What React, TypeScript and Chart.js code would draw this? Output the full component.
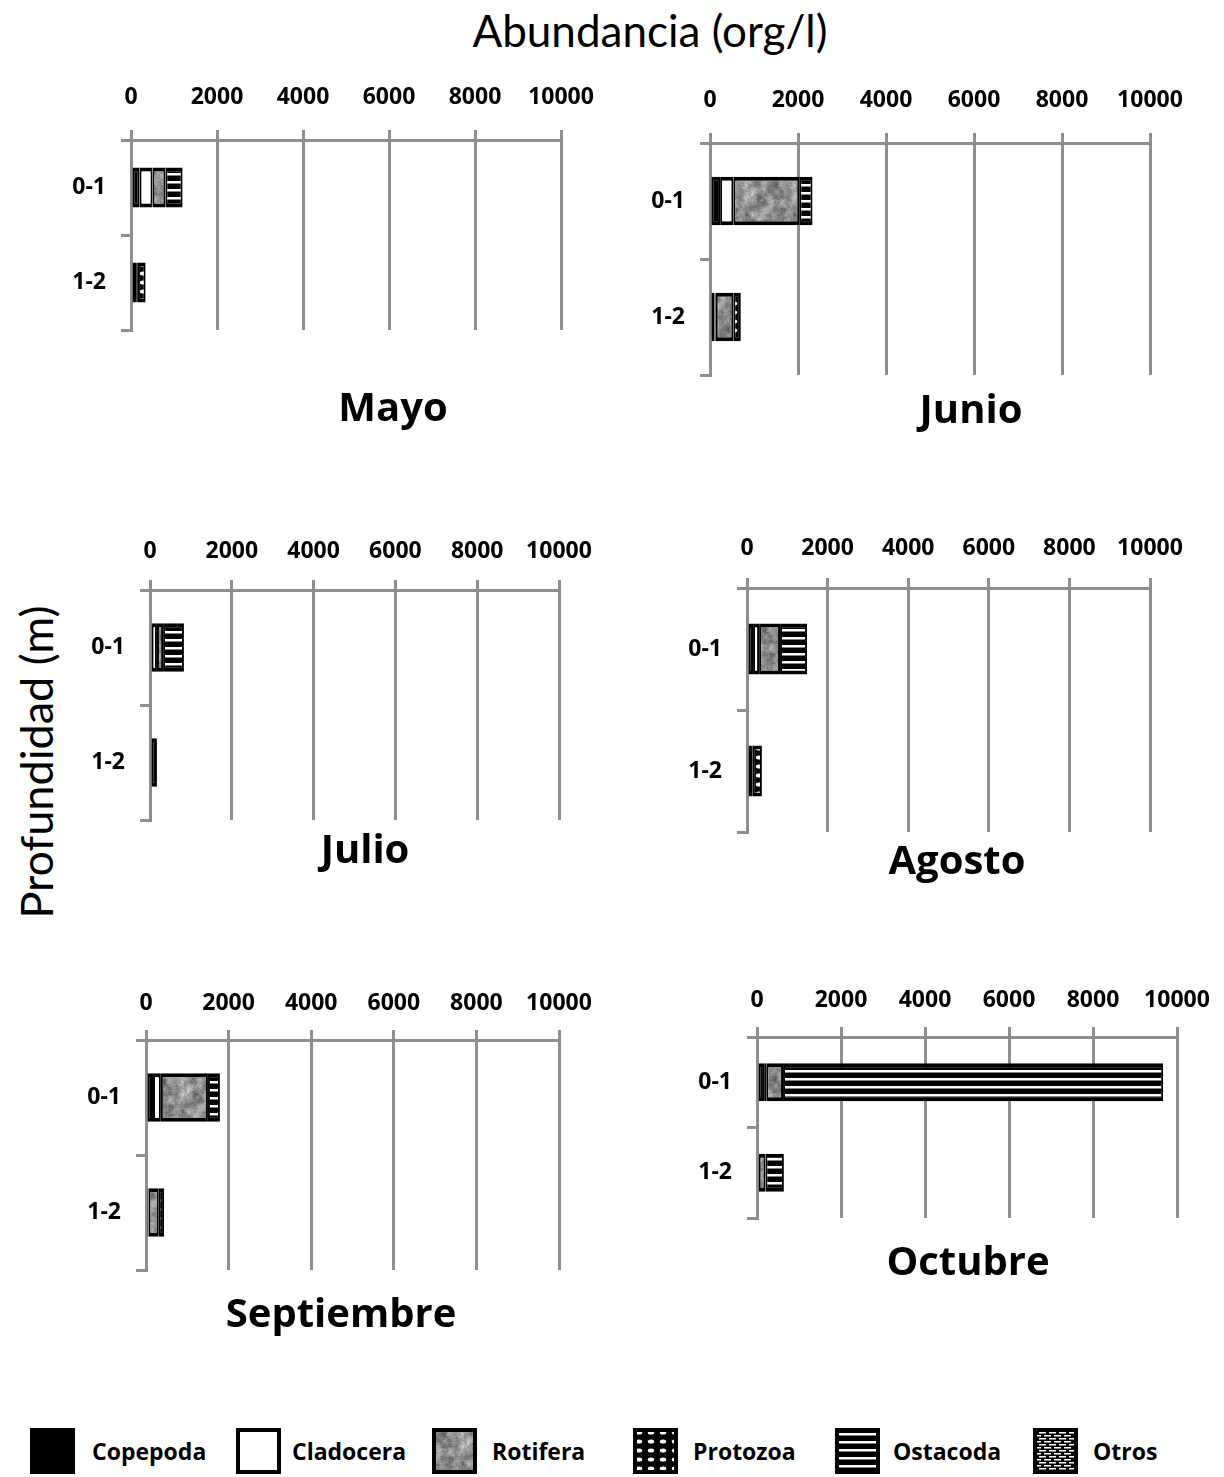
import React, { useEffect, useRef } from "react";
import { Chart, registerables } from "chart.js";
Chart.register(...registerables);

// ---------- DATA ----------
const depthLabels = ["0-1", "1-2"];
const monthNames = ["Mayo", "Junio", "Julio", "Agosto", "Septiembre", "Octubre"];
const xTickValues = [0, 2000, 4000, 6000, 8000, 10000];
const groupNames = ["Copepoda", "Cladocera", "Rotifera", "Protozoa", "Ostacoda", "Otros"];
// order: [Mayo 0-1, Mayo 1-2, Junio 0-1, Junio 1-2, Julio 0-1, Julio 1-2, Agosto 0-1, Agosto 1-2, Septiembre 0-1, Septiembre 1-2, Octubre 0-1, Octubre 1-2]
const copepoda = [200, 120, 230, 100, 40, 170, 150, 100, 170, 60, 170, 40];
const cladocera = [300, 40, 300, 30, 130, 0, 150, 30, 190, 0, 50, 0];
const rotifera = [300, 0, 1500, 400, 150, 0, 520, 0, 1140, 250, 400, 160];
const protozoa = [0, 180, 0, 170, 0, 0, 0, 240, 0, 130, 0, 0];
const ostracoda = [400, 0, 300, 0, 510, 0, 670, 0, 290, 0, 9050, 440];
const otros = [0, 0, 0, 0, 0, 0, 0, 0, 0, 0, 0, 0];

// ---------- LAYOUT / STYLE ----------
const groupKinds = ["black", "white", "noise", "dots", "stripes", "bricks"];
const panelLayout = [
  { L: 131, R: 561, T: 140, B: 330, tx: 393, ty: 410, tickPad: 19 },
  { L: 710, R: 1150, T: 143, B: 375, tx: 971, ty: 412, tickPad: 19 },
  { L: 150, R: 559, T: 590, B: 820, tx: 365, ty: 852, tickPad: 15 },
  { L: 747, R: 1150, T: 588, B: 832, tx: 957, ty: 863, tickPad: 16 },
  { L: 146, R: 559, T: 1040, B: 1270, tx: 341, ty: 1316, tickPad: 13 },
  { L: 757, R: 1177, T: 1037, B: 1218, tx: 968, ty: 1264, tickPad: 13 },
];
const legendPos = [
  { sx: 30, tx: 92 },
  { sx: 236, tx: 292 },
  { sx: 432, tx: 492 },
  { sx: 633, tx: 693 },
  { sx: 835, tx: 893 },
  { sx: 1033, tx: 1093 },
];
const GRID = "#8e8e8e";
const Y_AXIS_W = 90;
const X_AXIS_H = 60;
const RIGHT_PAD = 62;

function latticeValue(ix: number, iy: number, seed: number) {
  let h = (ix * 374761393 + iy * 668265263 + seed * 982451653) | 0;
  h = Math.imul(h ^ (h >>> 13), 1274126177);
  h = h ^ (h >>> 16);
  return (h >>> 0) / 4294967295;
}

function smoothNoise(x: number, y: number, cell: number, size: number, seed: number) {
  const n = size / cell;
  const gx = x / cell, gy = y / cell;
  const x0 = Math.floor(gx), y0 = Math.floor(gy);
  const fx = gx - x0, fy = gy - y0;
  const sx = fx * fx * (3 - 2 * fx), sy = fy * fy * (3 - 2 * fy);
  const w = (a: number) => ((a % n) + n) % n;
  const v00 = latticeValue(w(x0), w(y0), seed);
  const v10 = latticeValue(w(x0 + 1), w(y0), seed);
  const v01 = latticeValue(w(x0), w(y0 + 1), seed);
  const v11 = latticeValue(w(x0 + 1), w(y0 + 1), seed);
  return (v00 * (1 - sx) + v10 * sx) * (1 - sy) + (v01 * (1 - sx) + v11 * sx) * sy;
}

function makeFill(ctx: CanvasRenderingContext2D, kind: string): any {
  if (kind === "black") return "#000000";
  if (kind === "white") return "#ffffff";
  const c = document.createElement("canvas");
  let w = 8, h = 8;
  if (kind === "noise") { w = 48; h = 48; }
  if (kind === "dots") { w = 12; h = 9; }
  if (kind === "stripes") { w = 8; h = 8; }
  if (kind === "bricks") { w = 10; h = 6; }
  c.width = w; c.height = h;
  const g = c.getContext("2d")!;
  if (kind === "noise") {
    const img = g.createImageData(w, h);
    for (let y = 0; y < h; y++) {
      for (let x = 0; x < w; x++) {
        const v =
          142 +
          64 * (smoothNoise(x, y, 6, w, 1) - 0.5) +
          44 * (smoothNoise(x, y, 3, w, 2) - 0.5) +
          30 * (smoothNoise(x, y, 1, w, 3) - 0.5);
        const i = (y * w + x) * 4;
        img.data[i] = v; img.data[i + 1] = v; img.data[i + 2] = v; img.data[i + 3] = 255;
      }
    }
    g.putImageData(img, 0, 0);
  } else if (kind === "dots") {
    g.fillStyle = "#000"; g.fillRect(0, 0, w, h);
    g.fillStyle = "#fff";
    g.beginPath();
    g.ellipse(6, 4.5, 3.2, 2, 0, 0, Math.PI * 2);
    g.fill();
  } else if (kind === "stripes") {
    g.fillStyle = "#000"; g.fillRect(0, 0, w, h);
    g.fillStyle = "#fff"; g.fillRect(0, 5, w, 2.5);
  } else if (kind === "bricks") {
    g.fillStyle = "#000"; g.fillRect(0, 0, w, h);
    g.fillStyle = "#fff";
    g.fillRect(1, 1, 7, 1.5);
    g.fillRect(6, 4, 7, 1.5);
    g.fillRect(-4, 4, 7, 1.5);
  }
  return ctx.createPattern(c, "repeat");
}

const panelTitlePlugin = {
  id: "panelTitle",
  afterDraw(chart: any, _args: any, opts: any) {
    const ctx = chart.ctx;
    ctx.save();
    ctx.font = 'bold 40px "Open Sans"';
    ctx.fillStyle = "#000";
    ctx.textAlign = "center";
    ctx.textBaseline = "middle";
    ctx.fillText(opts.text, opts.x, opts.y);
    ctx.restore();
  },
};

function Panel({ idx }: { idx: number }) {
  const ref = useRef<HTMLCanvasElement>(null);
  const lay = panelLayout[idx];
  const cl = lay.L - Y_AXIS_W;
  const ct = lay.T - X_AXIS_H;
  const W = lay.R - cl + RIGHT_PAD;
  const H = lay.B - ct + 110;
  useEffect(() => {
    const canvas = ref.current!;
    const ctx = canvas.getContext("2d")!;
    const series = [copepoda, cladocera, rotifera, protozoa, ostracoda, otros];
    const datasets = series.map((arr, g) => ({
      label: groupNames[g],
      data: [arr[idx * 2], arr[idx * 2 + 1]],
      backgroundColor: makeFill(ctx, groupKinds[g]),
      borderColor: "#000000",
      borderWidth: { top: 4, bottom: 4, left: 2, right: 2 },
      borderSkipped: false,
      barPercentage: 0.84,
      categoryPercentage: 0.5,
      stack: "s",
    }));
    const chart = new Chart(ctx, {
      type: "bar",
      data: { labels: depthLabels, datasets },
      plugins: [panelTitlePlugin],
      options: {
        indexAxis: "y",
        responsive: false,
        animation: false,
        layout: { padding: { left: 0, top: 0, right: RIGHT_PAD, bottom: H - (lay.B - ct) } },
        plugins: {
          legend: { display: false },
          tooltip: { enabled: false },
          panelTitle: { text: monthNames[idx], x: lay.tx - cl, y: lay.ty - ct },
        } as any,
        scales: {
          x: {
            type: "linear",
            position: "top",
            stacked: true,
            min: 0,
            max: 10000,
            afterBuildTicks: (s: any) => { s.ticks = xTickValues.map((v) => ({ value: v })); },
            afterFit: (s: any) => { s.height = X_AXIS_H; },
            ticks: {
              autoSkip: false,
              maxRotation: 0,
              padding: lay.tickPad,
              color: "#000",
              font: { family: "Open Sans", weight: "bold", size: 23 },
              callback: (v: any) => String(v),
            },
            grid: { color: GRID, lineWidth: 3, drawTicks: true, tickLength: 10 },
            border: { display: true, color: GRID, width: 3 },
          },
          y: {
            type: "category",
            position: "left",
            stacked: true,
            offset: true,
            afterFit: (s: any) => { s.width = Y_AXIS_W; },
            ticks: {
              padding: 15,
              color: "#000",
              font: { family: "Open Sans", weight: "bold", size: 23 },
            },
            grid: { offset: true, drawOnChartArea: false, drawTicks: true, tickLength: 10, color: GRID, lineWidth: 3 },
            border: { display: true, color: GRID, width: 3 },
          },
        },
      } as any,
    });
    return () => chart.destroy();
  }, []);
  return (
    <canvas
      ref={ref}
      width={W}
      height={H}
      style={{ position: "absolute", left: cl, top: ct, width: W, height: H }}
    />
  );
}

function Swatch({ kind }: { kind: string }) {
  const ref = useRef<HTMLCanvasElement>(null);
  useEffect(() => {
    const c = ref.current!;
    const ctx = c.getContext("2d")!;
    ctx.clearRect(0, 0, c.width, c.height);
    ctx.fillStyle = makeFill(ctx, kind);
    ctx.fillRect(0, 0, c.width, c.height);
    ctx.strokeStyle = "#000";
    ctx.lineWidth = 4;
    ctx.strokeRect(2, 2, c.width - 4, c.height - 4);
  }, []);
  return <canvas ref={ref} width={45} height={46} style={{ display: "block" }} />;
}

export default function App() {
  return (
    <div
      style={{
        position: "absolute",
        left: 0,
        top: 0,
        width: 1224,
        height: 1477,
        overflow: "hidden",
        background: "#ffffff",
      }}
    >
      <div
        style={{
          position: "absolute",
          left: 350,
          top: 4,
          width: 600,
          textAlign: "center",
          font: '44px Lato',
          lineHeight: "52px",
          color: "#000",
          whiteSpace: "nowrap",
        }}
      >
        Abundancia (org/l)
      </div>
      <div
        style={{
          position: "absolute",
          left: 36,
          top: 762,
          transform: "translate(-50%, -50%) rotate(-90deg)",
          font: '45px Lato',
          lineHeight: "52px",
          color: "#000",
          whiteSpace: "nowrap",
        }}
      >
        Profundidad (m)
      </div>
      {panelLayout.map((_, i) => (
        <Panel key={i} idx={i} />
      ))}
      {groupNames.map((name, i) => (
        <React.Fragment key={name}>
          <div style={{ position: "absolute", left: legendPos[i].sx, top: 1428 }}>
            <Swatch kind={groupKinds[i]} />
          </div>
          <div
            style={{
              position: "absolute",
              left: legendPos[i].tx,
              top: 1451,
              transform: "translateY(-50%)",
              font: 'bold 23px "Open Sans"',
              color: "#000",
              whiteSpace: "nowrap",
            }}
          >
            {name}
          </div>
        </React.Fragment>
      ))}
    </div>
  );
}
